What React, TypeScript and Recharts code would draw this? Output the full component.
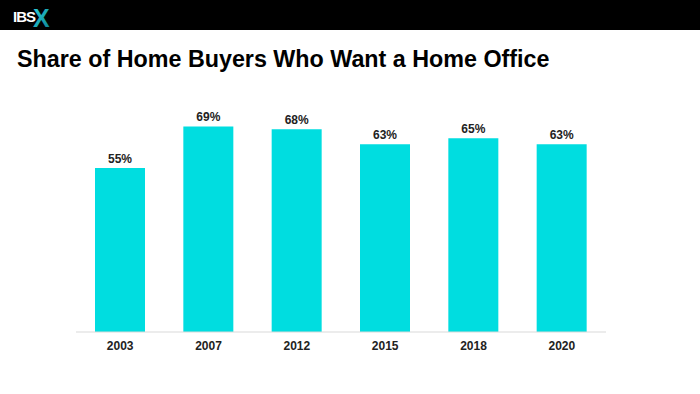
import React from "react";
import { BarChart, Bar, XAxis, YAxis, LabelList } from "recharts";

const years = ["2003", "2007", "2012", "2015", "2018", "2020"];
const shares = [55, 69, 68, 63, 65, 63];

const data = years.map((y, i) => ({ year: y, share: shares[i] }));

export default function App() {
  return (
    <div style={{ position: "fixed", left: 0, top: 0, width: 700, height: 394, background: "#fff", fontFamily: "'Liberation Sans', Arial, sans-serif" }}>
      <div style={{ position: "absolute", left: 0, top: 0, width: 700, height: 30, background: "#000" }} />
      <svg style={{ position: "absolute", left: 0, top: 0 }} width={80} height={32}>
        <defs>
          <linearGradient id="xg" x1="0" y1="0" x2="1" y2="1">
            <stop offset="0" stopColor="#2fd6e0" />
            <stop offset="1" stopColor="#0a7d8c" />
          </linearGradient>
        </defs>
        <text x={13} y={22} fill="#fff" fontSize={15} fontWeight="bold" fontFamily="'Liberation Sans', Arial" letterSpacing={-1}>IBS</text>
        <text x={33} y={27} fill="url(#xg)" fontSize={25} fontWeight="bold" fontFamily="'Liberation Sans', Arial">X</text>
      </svg>
      <div style={{ position: "absolute", left: 17, top: 45, fontSize: 23.3, fontWeight: "bold", color: "#000", whiteSpace: "nowrap", lineHeight: "28px" }}>
        Share of Home Buyers Who Want a Home Office
      </div>
      <div style={{ position: "absolute", left: 0, top: 0 }}>
        <BarChart width={700} height={394} data={data} margin={{ top: 34, right: 94, bottom: 32, left: 76 }}>
          <YAxis hide domain={[0, 100]} />
          <XAxis
            dataKey="year"
            height={30}
            axisLine={{ stroke: "#d9d9d9" }}
            tickLine={false}
            tickSize={0}
            tickMargin={9}
            tick={{ fill: "#222", fontSize: 12, fontWeight: "bold", fontFamily: "'Liberation Sans', Arial" }}
          />
          <Bar dataKey="share" fill="#00dde0" barSize={50} isAnimationActive={false}>
            <LabelList
              dataKey="share"
              position="top"
              formatter={(v: number) => `${v}%`}
              style={{ fill: "#222", fontSize: 12, fontWeight: "bold", fontFamily: "'Liberation Sans', Arial" }}
            />
          </Bar>
        </BarChart>
      </div>
    </div>
  );
}
